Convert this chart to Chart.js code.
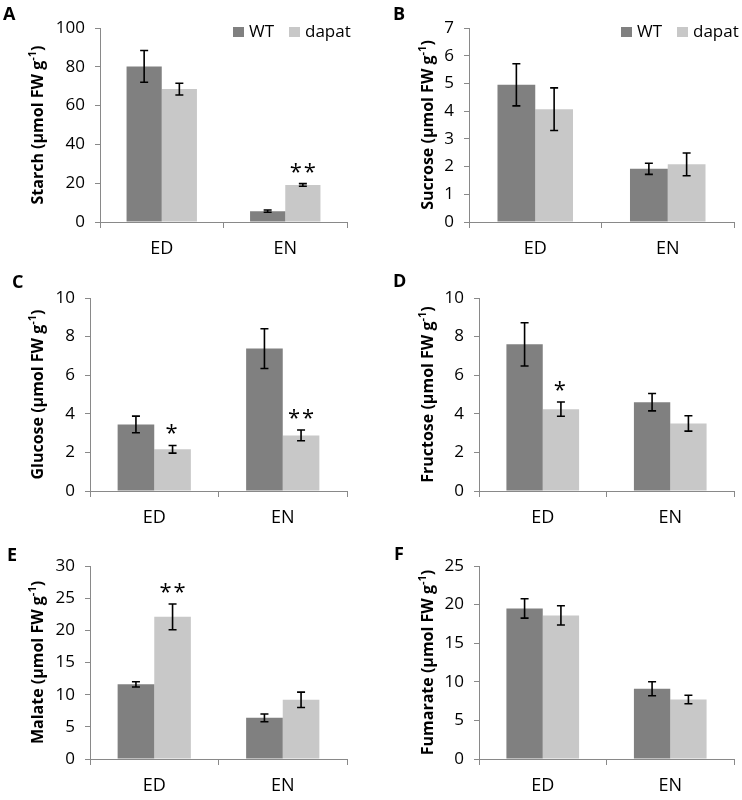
<!DOCTYPE html>
<html>
<head>
<meta charset="utf-8">
<script src="https://cdn.jsdelivr.net/npm/chart.js@4.4.1/dist/chart.umd.min.js"></script>
<style>
  body { margin: 0; background: #fff; }
  #wrap { position: relative; width: 742px; height: 800px; }
  #wrap canvas { position: absolute; }
</style>
</head>
<body>
<div id="wrap"></div>
<script>
// categories and series
const categories = ['ED', 'EN'];
const seriesNames = ['WT', 'dapat'];

// A - starch
const starchWT = [80.2, 5.6];
const starchWTErr = [8.2, 0.6];
const starchDapat = [68.5, 19.1];
const starchDapatErr = [3.0, 0.7];
const starchSig = ['', '**'];
const starchTicks = [0, 20, 40, 60, 80, 100];

// B - sucrose
const sucroseWT = [4.95, 1.92];
const sucroseWTErr = [0.76, 0.2];
const sucroseDapat = [4.07, 2.08];
const sucroseDapatErr = [0.77, 0.41];
const sucroseSig = ['', ''];
const sucroseTicks = [0, 1, 2, 3, 4, 5, 6, 7];

// C - glucose
const glucoseWT = [3.45, 7.38];
const glucoseWTErr = [0.43, 1.03];
const glucoseDapat = [2.16, 2.88];
const glucoseDapatErr = [0.2, 0.28];
const glucoseSig = ['*', '**'];
const glucoseTicks = [0, 2, 4, 6, 8, 10];

// D - fructose
const fructoseWT = [7.6, 4.6];
const fructoseWTErr = [1.12, 0.45];
const fructoseDapat = [4.24, 3.5];
const fructoseDapatErr = [0.37, 0.4];
const fructoseSig = ['*', ''];
const fructoseTicks = [0, 2, 4, 6, 8, 10];

// E - malate
const malateWT = [11.6, 6.4];
const malateWTErr = [0.4, 0.6];
const malateDapat = [22.1, 9.2];
const malateDapatErr = [2.0, 1.2];
const malateSig = ['**', ''];
const malateTicks = [0, 5, 10, 15, 20, 25, 30];

// F - fumarate
const fumarateWT = [19.5, 9.1];
const fumarateWTErr = [1.25, 0.9];
const fumarateDapat = [18.6, 7.7];
const fumarateDapatErr = [1.25, 0.55];
const fumarateSig = ['', ''];
const fumarateTicks = [0, 5, 10, 15, 20, 25];

const FONT = "'Open Sans', sans-serif";
const AXIS = '#898989';
const colWT = '#808080';
const colDapat = '#c8c8c8';

// panel layout (canvas box in page px, chart area inside canvas)
const panels = [
  { letter: 'A', name: 'Starch', wt: starchWT, wtErr: starchWTErr, dp: starchDapat, dpErr: starchDapatErr, sig: starchSig, ticks: starchTicks,
    box: [0, 0, 371, 265], area: [100, 28, 347, 222], titleX: 38, letterPos: [3, 20], legendX: 233 },
  { letter: 'B', name: 'Sucrose', wt: sucroseWT, wtErr: sucroseWTErr, dp: sucroseDapat, dpErr: sucroseDapatErr, sig: sucroseSig, ticks: sucroseTicks,
    box: [371, 0, 371, 265], area: [98, 28, 363, 222], titleX: 57, letterPos: [22, 20], legendX: 250 },
  { letter: 'C', name: 'Glucose', wt: glucoseWT, wtErr: glucoseWTErr, dp: glucoseDapat, dpErr: glucoseDapatErr, sig: glucoseSig, ticks: glucoseTicks,
    box: [0, 260, 371, 270], area: [90, 38, 347, 231], titleX: 38, letterPos: [12, 28] },
  { letter: 'D', name: 'Fructose', wt: fructoseWT, wtErr: fructoseWTErr, dp: fructoseDapat, dpErr: fructoseDapatErr, sig: fructoseSig, ticks: fructoseTicks,
    box: [371, 260, 371, 270], area: [108, 38, 363, 231], titleX: 57, letterPos: [22, 27] },
  { letter: 'E', name: 'Malate', wt: malateWT, wtErr: malateWTErr, dp: malateDapat, dpErr: malateDapatErr, sig: malateSig, ticks: malateTicks,
    box: [0, 520, 371, 280], area: [90, 46, 347, 239], titleX: 38, letterPos: [7, 41] },
  { letter: 'F', name: 'Fumarate', wt: fumarateWT, wtErr: fumarateWTErr, dp: fumarateDapat, dpErr: fumarateDapatErr, sig: fumarateSig, ticks: fumarateTicks,
    box: [371, 520, 371, 280], area: [108, 46, 363, 239], titleX: 57, letterPos: [23, 40] }
];

// error bars, stars, y title, letter, legend
const extras = {
  id: 'extras',
  afterDatasetsDraw(chart, args, opts) {
    const p = opts.panel;
    const ctx = chart.ctx;
    const y = chart.scales.y;
    const errs = [p.wtErr, p.dpErr];
    ctx.save();
    ctx.strokeStyle = '#000';
    ctx.lineWidth = 1.6;
    chart.data.datasets.forEach((ds, di) => {
      chart.getDatasetMeta(di).data.forEach((bar, i) => {
        const v = ds.data[i], e = errs[di][i];
        const top = y.getPixelForValue(v + e);
        const bot = y.getPixelForValue(v - e);
        ctx.beginPath();
        ctx.moveTo(bar.x, top); ctx.lineTo(bar.x, bot);
        ctx.moveTo(bar.x - 4, top); ctx.lineTo(bar.x + 4, top);
        ctx.moveTo(bar.x - 4, bot); ctx.lineTo(bar.x + 4, bot);
        ctx.stroke();
        if (di === 1 && p.sig[i]) {
          ctx.fillStyle = '#000';
          ctx.font = '22px ' + FONT;
          ctx.letterSpacing = '2px';
          ctx.textAlign = 'center';
          ctx.textBaseline = 'alphabetic';
          ctx.fillText(p.sig[i], bar.x + (p.sig[i].length > 1 ? 1 : 0), top - 5);
          ctx.letterSpacing = '0px';
        }
      });
    });
    ctx.restore();
  },
  afterDraw(chart, args, opts) {
    const p = opts.panel;
    const ctx = chart.ctx;
    const ca = chart.chartArea;
    ctx.save();
    // panel letter
    ctx.fillStyle = '#000';
    ctx.font = 'bold 18px ' + FONT;
    ctx.textAlign = 'left';
    ctx.textBaseline = 'alphabetic';
    ctx.fillText(p.letter, p.letterPos[0], p.letterPos[1]);
    // y title with superscript
    const main = p.name + ' (\u00b5mol FW g', sup = '-1', end = ')';
    const fMain = 'bold 16px ' + FONT, fSup = 'bold 11px ' + FONT;
    ctx.font = fMain; const w1 = ctx.measureText(main).width, w3 = ctx.measureText(end).width;
    ctx.font = fSup; const w2 = ctx.measureText(sup).width;
    ctx.translate(p.titleX, (ca.top + ca.bottom) / 2);
    ctx.rotate(-Math.PI / 2);
    ctx.textBaseline = 'middle';
    let x0 = -(w1 + w2 + w3) / 2;
    ctx.font = fMain; ctx.fillText(main, x0, 0);
    ctx.font = fSup; ctx.fillText(sup, x0 + w1, -5);
    ctx.font = fMain; ctx.fillText(end, x0 + w1 + w2, 0);
    ctx.restore();
    // legend
    if (p.legendX !== undefined) {
      ctx.save();
      ctx.font = '17px ' + FONT;
      ctx.textBaseline = 'middle';
      [colWT, colDapat].forEach((c, i) => {
        const lx = p.legendX + i * 56;
        ctx.fillStyle = c;
        ctx.fillRect(lx, 27, 11, 10);
        ctx.fillStyle = '#000';
        ctx.fillText(seriesNames[i], lx + 16, 32);
      });
      ctx.restore();
    }
  }
};

panels.forEach(p => {
  const cv = document.createElement('canvas');
  cv.width = p.box[2];
  cv.height = p.box[3];
  cv.style.left = p.box[0] + 'px';
  cv.style.top = p.box[1] + 'px';
  document.getElementById('wrap').appendChild(cv);

  new Chart(cv.getContext('2d'), {
    type: 'bar',
    data: {
      labels: categories,
      datasets: [
        { label: seriesNames[0], data: p.wt, backgroundColor: colWT },
        { label: seriesNames[1], data: p.dp, backgroundColor: colDapat }
      ]
    },
    options: {
      responsive: false,
      animation: false,
      events: [],
      layout: { padding: { left: 0, top: p.area[1], right: p.box[2] - p.area[2], bottom: 0 } },
      datasets: { bar: { categoryPercentage: 0.57, barPercentage: 1.0 } },
      plugins: {
        legend: { display: false },
        tooltip: { enabled: false },
        extras: { panel: p }
      },
      scales: {
        x: {
          grid: { display: true, drawOnChartArea: false, drawTicks: true, tickLength: 6, color: AXIS },
          border: { color: AXIS },
          ticks: { color: '#000', font: { family: FONT, size: 18 }, padding: 10 },
          afterFit: s => { s.height = p.box[3] - p.area[3]; }
        },
        y: {
          min: 0,
          max: p.ticks[p.ticks.length - 1],
          grid: { display: true, drawOnChartArea: false, drawTicks: true, tickLength: 5, color: AXIS },
          border: { color: AXIS },
          ticks: { color: '#000', font: { family: FONT, size: 17 }, padding: 10 },
          afterBuildTicks: s => { s.ticks = p.ticks.map(v => ({ value: v })); },
          afterFit: s => { s.width = p.area[0]; }
        }
      }
    },
    plugins: [extras]
  });
});
</script>
</body>
</html>
